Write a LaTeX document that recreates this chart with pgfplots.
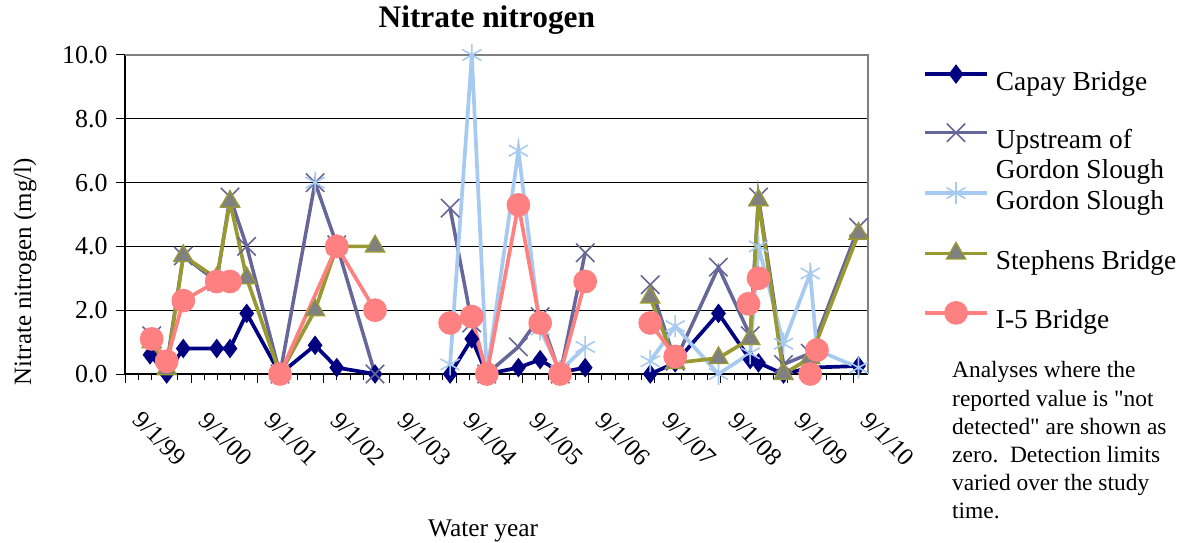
\documentclass[border=0pt]{standalone}
\usepackage{fontspec}
\setmainfont{Liberation Serif}
\newfontfamily\notefont{Liberation Serif}
\usepackage{pgfplots}
\pgfplotsset{compat=1.18}
\definecolor{capay}{HTML}{000080}
\definecolor{upstr}{HTML}{666699}
\definecolor{gordon}{HTML}{A6CAF0}
\definecolor{steph}{HTML}{999933}
\definecolor{stephfill}{HTML}{808080}
\definecolor{ifive}{HTML}{FF8080}
\definecolor{frame}{HTML}{808080}
\begin{document}
\begin{tikzpicture}
\path[use as bounding box] (0,0) rectangle (1190bp,543bp);
\begin{axis}[
  at={(125bp,169bp)}, anchor=south west,
  scale only axis, width=743bp, height=319bp,
  xmin=0, xmax=11.22, ymin=0, ymax=10,
  clip=false,
  unbounded coords=jump,
  axis x line*=bottom, axis y line*=left,
  axis line style={black, line width=1.2bp},
  xtick={0,...,11},
  xticklabels={9/1/99,9/1/00,9/1/01,9/1/02,9/1/03,9/1/04,9/1/05,9/1/06,9/1/07,9/1/08,9/1/09,9/1/10},
  minor x tick num=4,
  ytick={0,2,4,6,8,10},
  tick align=outside,
  major tick length=9bp, minor tick length=6bp,
  every tick/.style={black, line width=1bp},
  ymajorgrids, grid style={black, line width=0.9bp},
  /pgf/number format/assume math mode=true,
  y tick label style={/pgf/number format/fixed, /pgf/number format/fixed zerofill, /pgf/number format/precision=1, font=\fontsize{26}{30}\selectfont, xshift=-5bp},
  x tick label style={rotate=-45, anchor=north west, inner sep=0pt, xshift=31.8bp, yshift=-6.4bp, font=\fontsize{25}{30}\selectfont},
  title={Nitrate nitrogen},
  title style={font=\bfseries\fontsize{31.5}{36}\selectfont, at={(axis description cs:0.487,1.069)}, anchor=base},
  xlabel={Water year},
  xlabel style={font=\fontsize{25.5}{30}\selectfont, at={(axis description cs:0.482,-0.508)}, anchor=base},
  ylabel={Nitrate nitrogen (mg/l)},
  ylabel style={font=\fontsize{25}{30}\selectfont, at={(axis description cs:-0.1265,0.321)}, anchor=base},
  legend cell align=left,
  legend style={at={(axis description cs:1.074,0.969)}, anchor=north west, draw=none, fill=none,
    font=\fontsize{27.5}{30}\selectfont, inner sep=0pt, row sep=25.4bp, column sep=0pt,
    nodes={inner sep=0pt, text height=20bp, text depth=8bp}},
  legend image code/.code={\draw[mark repeat=2,mark phase=2] plot coordinates {(0bp,10bp) (31bp,10bp) (62bp,10bp)};\path (69bp,10bp);},
]
\draw[frame, line width=2bp] (rel axis cs:0,1) -- (rel axis cs:1,1) -- (rel axis cs:1,0);

% Capay Bridge
\addplot[capay, line width=3.7bp, mark=diamond*, mark size=9bp, mark options={fill=capay, line width=1bp, solid}] coordinates {
(0.378,0.6) (0.63,0.0) (0.88,0.8) (1.385,0.8) (1.586,0.8) (1.838,1.9) (2.341,0.0) (2.870,0.9) (3.198,0.2) (3.776,0.0)
(4.3,nan)
(4.909,0.0) (5.237,1.1) (5.464,0.0) (5.941,0.2) (6.269,0.45) (6.571,0.05) (6.949,0.2)
(7.4,nan)
(7.931,0.0) (8.308,0.35) (8.962,1.9) (9.441,0.45) (9.566,0.35) (9.944,0.0) (10.347,0.2) (11.077,0.25)
};
\addlegendentry{Capay Bridge}

% Upstream of Gordon Slough
\addplot[upstr, line width=3.5bp, mark=x, mark size=13bp, mark options={line width=1.6bp, solid}] coordinates {
(0.403,1.2) (0.63,0.3) (0.88,3.7) (1.385,2.9) (1.586,5.55) (1.838,4.0) (2.341,0.0) (2.870,6.0) (3.198,4.05) (3.776,0.0)
(4.3,nan)
(4.909,5.2) (5.237,1.6) (5.464,0.0) (5.941,0.85) (6.269,1.8) (6.571,0.0) (6.949,3.8)
(7.4,nan)
(7.931,2.8) (8.308,0.4) (8.962,3.35) (9.441,1.2) (9.566,5.55) (9.944,0.3) (10.347,0.65) (11.077,4.6)
};
\addlegendentry{\begin{tabular}[t]{@{}l@{}}Upstream of\\Gordon Slough\end{tabular}}

% Gordon Slough
\addplot[gordon, line width=3.7bp, mark=asterisk, mark size=11bp, mark options={line width=1.6bp, solid}] coordinates {
(2.870,6.0)
(4.3,nan)
(4.909,0.3) (5.237,10.0) (5.464,0.0) (5.941,7.0) (6.269,1.4) (6.571,0.1) (6.949,0.85)
(7.4,nan)
(7.931,0.4) (8.308,1.5) (8.962,0.0) (9.441,0.65) (9.566,4.0) (9.944,0.95) (10.347,3.15) (10.449,0.75) (11.077,0.2)
};
\addlegendentry{Gordon Slough}

% Stephens Bridge
\addplot[steph, line width=3.7bp, mark=triangle*, mark size=11bp, mark options={fill=stephfill, draw=steph, line width=1.4bp, solid}] coordinates {
(0.403,1.0) (0.63,0.15) (0.88,3.7) (1.385,3.0) (1.586,5.4) (1.838,3.0) (2.341,0.0) (2.870,2.0) (3.198,4.0) (3.776,4.0)
(4.3,nan)
(7.931,2.4) (8.308,0.35) (8.962,0.5) (9.441,1.1) (9.566,5.45) (9.944,0.0) (10.347,0.5) (11.077,4.4)
};
\addlegendentry{Stephens Bridge}

% I-5 Bridge
\addplot[ifive, line width=3.7bp, mark=*, mark size=10bp, mark options={fill=ifive, draw=ifive, solid}] coordinates {
(0.403,1.1) (0.63,0.4) (0.88,2.3) (1.385,2.9) (1.586,2.9)
(1.9,nan)
(2.341,0.0) (3.198,4.0) (3.776,2.0)
(4.3,nan)
(4.909,1.6) (5.237,1.8) (5.464,0.0) (5.941,5.3) (6.269,1.6) (6.571,0.0) (6.949,2.9)
(7.4,nan)
(7.931,1.6) (8.308,0.55)
(8.8,nan)
(9.415,2.2) (9.566,3.0)
(10.0,nan)
(10.347,0.0) (10.449,0.75)
};
\addlegendentry{I-5 Bridge}
\end{axis}
\node[anchor=north west, align=left, inner sep=0pt, font=\notefont\fontsize{23.5}{28.2}\selectfont] at (952bp,181.5bp)
{Analyses where the\\reported value is "not\\detected" are shown as\\zero.\ \ Detection limits\\varied over the study\\time.};
\end{tikzpicture}
\end{document}
